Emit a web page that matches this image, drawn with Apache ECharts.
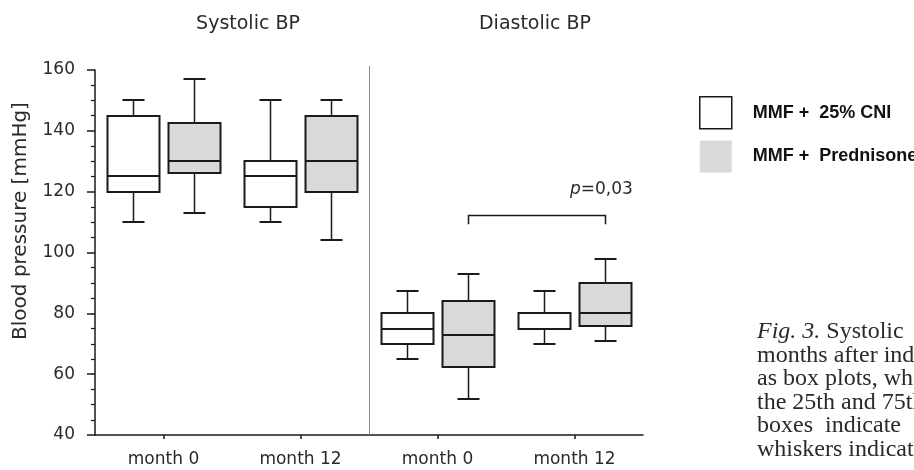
<!DOCTYPE html>
<html><head><meta charset="utf-8">
<script src="https://cdn.jsdelivr.net/npm/echarts@6/dist/echarts.min.js"></script>
<style>html,body{margin:0;padding:0;background:#fff}#c{width:914px;height:470px}</style>
</head><body><div id="c"></div>
<script>
// ---- data ----
const categories = ['month 0', 'month 12', 'month 0', 'month 12'];
const panelTitles = ['Systolic BP', 'Diastolic BP'];
const seriesNames = ['MMF + 25% CNI', 'MMF + Prednisone'];
// [min, Q1, median, Q3, max] per category
const cniValues  = [[110, 120, 125, 145, 150], [110, 115, 125, 130, 150], [65, 70, 75, 80, 87.5], [70, 75, 75, 80, 87.5]];
const predValues = [[113, 126, 130, 142.5, 157], [104, 120, 130, 145, 150], [52, 62.5, 73, 84, 93], [71, 76, 80, 90, 98]];
const yMin = 40, yMax = 160, yInterval = 20;
const yAxisName = 'Blood pressure [mmHg]';
const dividerBefore = 2;           // first category of the Diastolic panel
const sigPair = [2, 3];            // bracket between Prednisone boxes
const sigLevel = 112.3, sigDrop = 3, pLabelOffset = 8.4;
const pValueText = '=0,03';
const captionLines = ['{i|Fig. 3.} Systolic', 'months after ind', 'as box plots, wh', 'the 25th and 75th', 'boxes  indicate', 'whiskers indicate'];

// ---- styles ----
const INK = '#1a1a1a';
const GRAY = '#d9d9d9';
const OFFSET = 0.222, HALF_BOX = 0.19, HALF_CAP = 0.08;

function boxRender(side, fill) {
  return function (params, api) {
    const xi = api.value(0);
    const band = api.size([1, 0])[0];
    const cx = Math.round(api.coord([xi, api.value(3)])[0] + side * band * OFFSET) + 0.5;
    const y = k => Math.round(api.coord([xi, api.value(k)])[1]);
    const y0 = y(1), q1 = y(2), md = y(3), q3 = y(4), y1 = y(5);
    const hw = Math.round(band * HALF_BOX), cw = Math.round(band * HALF_CAP);
    const ls = { stroke: INK, lineWidth: 2 };
    return {
      type: 'group', children: [
        { type: 'line', shape: { x1: cx, y1: y1, x2: cx, y2: q3 }, style: { stroke: INK, lineWidth: 1.5 } },
        { type: 'line', shape: { x1: cx, y1: q1, x2: cx, y2: y0 }, style: { stroke: INK, lineWidth: 1.5 } },
        { type: 'line', shape: { x1: cx - cw, y1: y1, x2: cx + cw, y2: y1 }, style: ls },
        { type: 'line', shape: { x1: cx - cw, y1: y0, x2: cx + cw, y2: y0 }, style: ls },
        { type: 'rect', shape: { x: cx - hw, y: q3, width: 2 * hw, height: q1 - q3 }, style: { fill: fill, stroke: INK, lineWidth: 2 } },
        { type: 'line', shape: { x1: cx - hw, y1: md, x2: cx + hw, y2: md }, style: ls }
      ]
    };
  };
}

const chart = echarts.init(document.getElementById('c'), null, { renderer: 'canvas' });
const FONT = 'DejaVu Sans';
chart.setOption({
  backgroundColor: '#fff',
  animation: false,
  grid: { left: 95, right: 271, top: 70, bottom: 35, containLabel: false },
  xAxis: {
    type: 'category', data: categories,
    axisLine: { lineStyle: { color: INK, width: 1.5 } },
    axisTick: { show: true, alignWithLabel: true, interval: 0, length: 4, lineStyle: { color: INK, width: 1.5 } },
    axisLabel: { interval: 0, margin: 16, fontFamily: FONT, fontSize: 17, color: '#2a2a2a' },
    splitLine: { show: false }
  },
  yAxis: {
    type: 'value', min: yMin, max: yMax, interval: yInterval,
    axisLine: { show: true, lineStyle: { color: INK, width: 1.5 } },
    axisTick: { show: true, length: 8, lineStyle: { color: INK, width: 1.5 } },
    minorTick: { show: true, splitNumber: 4, length: 4, lineStyle: { color: INK, width: 1.2 } },
    axisLabel: { margin: 20, fontFamily: FONT, fontSize: 17, color: '#2a2a2a' },
    splitLine: { show: false }
  },
  legend: {
    orient: 'vertical', left: 699, top: 96, padding: 0, itemWidth: 32, itemHeight: 32, itemGap: 11,
    icon: 'rect', selectedMode: false,
    formatter: n => n.replace('+ ', '+  '),
    data: [
      { name: seriesNames[0], itemStyle: { color: '#fff', borderColor: INK, borderWidth: 1.5 } },
      { name: seriesNames[1], itemStyle: { color: GRAY, borderWidth: 0 } }
    ],
    textStyle: { fontFamily: 'Liberation Sans', fontWeight: 'bold', fontSize: 18, color: '#111', padding: [0, 0, 0, 16] }
  },
  graphic: [
    { type: 'text', x: 248, y: 24, style: { text: panelTitles[0], fontFamily: FONT, fontSize: 19, fill: '#2a2a2a', align: 'center', verticalAlign: 'middle' } },
    { type: 'text', x: 535, y: 24, style: { text: panelTitles[1], fontFamily: FONT, fontSize: 19, fill: '#2a2a2a', align: 'center', verticalAlign: 'middle' } },
    { type: 'text', x: 21, y: 221, rotation: Math.PI / 2, style: { text: yAxisName, fontFamily: FONT, fontSize: 20, fill: '#2a2a2a', align: 'center', verticalAlign: 'middle' } },
    { type: 'text', x: 757, y: 320, style: {
        text: captionLines.join('\n'), fontFamily: 'Liberation Serif', fontSize: 24, lineHeight: 23.5, fill: '#2a2a2a',
        rich: { i: { fontFamily: 'Liberation Serif', fontSize: 24, fontStyle: 'italic', lineHeight: 23.5, fill: '#2a2a2a' } } } }
  ],
  series: [
    {
      name: seriesNames[0], type: 'custom', clip: false,
      itemStyle: { color: '#fff', borderColor: INK },
      encode: { x: 0, y: [1, 2, 3, 4, 5] },
      data: cniValues.map((v, i) => [i].concat(v)),
      renderItem: boxRender(-1, '#fff'), z: 3
    },
    {
      name: seriesNames[1], type: 'custom', clip: false,
      itemStyle: { color: GRAY },
      encode: { x: 0, y: [1, 2, 3, 4, 5] },
      data: predValues.map((v, i) => [i].concat(v)),
      renderItem: boxRender(1, GRAY), z: 3
    },
    {
      name: 'divider', type: 'custom', silent: true, clip: false,
      encode: { x: 0, y: 1 },
      data: [[dividerBefore, yMax]],
      renderItem: function (params, api) {
        const band = api.size([1, 0])[0];
        const x = Math.round(api.coord([api.value(0), yMax])[0] - band / 2) + 0.5;
        return { type: 'line', shape: { x1: x, y1: api.coord([0, yMax])[1] - 4, x2: x, y2: api.coord([0, yMin])[1] }, style: { stroke: '#8a8a8a', lineWidth: 1 } };
      }
    },
    {
      name: 'significance', type: 'custom', silent: true, clip: false,
      encode: { x: 0, y: 2 },
      data: [[sigPair[0], sigPair[1], sigLevel]],
      renderItem: function (params, api) {
        const band = api.size([1, 0])[0];
        const lvl = api.value(2);
        const xa = Math.round(api.coord([api.value(0), lvl])[0] + band * OFFSET) + 0.5;
        const xb = Math.round(api.coord([api.value(1), lvl])[0] + band * OFFSET) + 0.5;
        const y = Math.round(api.coord([api.value(0), lvl])[1]) + 0.5;
        const yd = api.coord([api.value(0), lvl - sigDrop])[1];
        const yt = api.coord([api.value(0), lvl + pLabelOffset])[1];
        return {
          type: 'group', children: [
            { type: 'polyline', shape: { points: [[xa, yd], [xa, y], [xb, y], [xb, yd]] }, style: { stroke: INK, lineWidth: 1.5, fill: null } },
            { type: 'text', x: xb + band * 0.2, y: yt, style: { text: '{p|p}' + pValueText, fontFamily: FONT, fontSize: 17, fill: '#2a2a2a', align: 'right', verticalAlign: 'middle',
                rich: { p: { fontFamily: FONT, fontSize: 17, fontStyle: 'italic', fill: '#2a2a2a' } } } }
          ]
        };
      }
    }
  ]
});
</script></body></html>
